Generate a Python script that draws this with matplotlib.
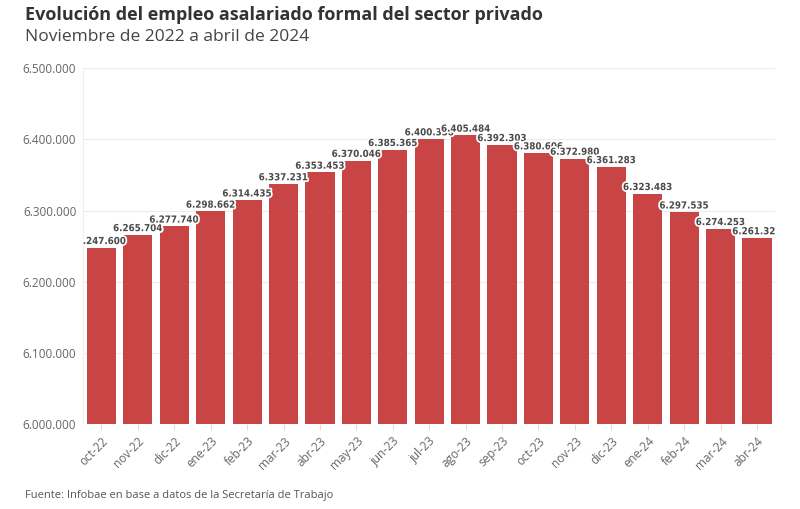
import matplotlib.pyplot as plt
import matplotlib.patheffects as pe
from matplotlib.ticker import FuncFormatter

meses = ["oct-22", "nov-22", "dic-22", "ene-23", "feb-23", "mar-23", "abr-23",
         "may-23", "jun-23", "jul-23", "ago-23", "sep-23", "oct-23", "nov-23",
         "dic-23", "ene-24", "feb-24", "mar-24", "abr-24"]
empleo = [6247600, 6265704, 6277740, 6298662, 6314435, 6337231, 6353453,
          6370046, 6385365, 6400358, 6405484, 6392303, 6380606, 6372980,
          6361283, 6323483, 6297535, 6274253, 6261325]
y_ticks = [6000000, 6100000, 6200000, 6300000, 6400000, 6500000]


def miles(v):
    return f"{int(round(v)):,}".replace(",", ".")


fig = plt.figure(figsize=(8, 5.09), dpi=100)
ax = fig.add_axes([0.104, 0.167, 0.865, 0.699])

x = range(len(meses))
ax.bar(x, empleo, width=0.8, color="#c94545", zorder=2)

for i, v in enumerate(empleo):
    t = ax.text(i, v + 2500, miles(v), ha="center", va="bottom", fontsize=7,
                fontweight="bold", fontstretch="condensed", color="#4a4a4a",
                zorder=3, clip_on=True, family="DejaVu Sans")
    t.set_path_effects([pe.withStroke(linewidth=2.5, foreground="white")])

ax.set_ylim(6000000, 6500000)
ax.set_xlim(-0.5, len(meses) - 0.5)
ax.set_yticks(y_ticks)
ax.yaxis.set_major_formatter(FuncFormatter(lambda v, p: miles(v)))
ax.set_xticks(list(x))
ax.set_xticklabels(meses, rotation=45, ha="right", rotation_mode="anchor")
ax.tick_params(axis="x", labelsize=8.5, colors="#666666", length=4, color="#dddddd")
ax.tick_params(axis="y", labelsize=8.5, colors="#666666", length=0, pad=5)
for lbl in ax.get_xticklabels() + ax.get_yticklabels():
    lbl.set_family("Open Sans")

ax.grid(axis="y", color="#ececec", linewidth=0.8, zorder=0)
for s in ["top", "right", "bottom"]:
    ax.spines[s].set_visible(False)
ax.spines["left"].set_color("#eeeeee")

fig.text(0.031, 0.97, "Evolución del empleo asalariado formal del sector privado",
         fontsize=13, fontweight="bold", color="#333333", va="center", family="Open Sans")
fig.text(0.031, 0.927, "Noviembre de 2022 a abril de 2024",
         fontsize=12.5, color="#444444", va="center", family="Open Sans")
fig.text(0.031, 0.027, "Fuente: Infobae en base a datos de la Secretaría de Trabajo",
         fontsize=8, color="#555555", va="center", family="Open Sans")

fig.savefig("out.png", dpi=100, facecolor="white")
